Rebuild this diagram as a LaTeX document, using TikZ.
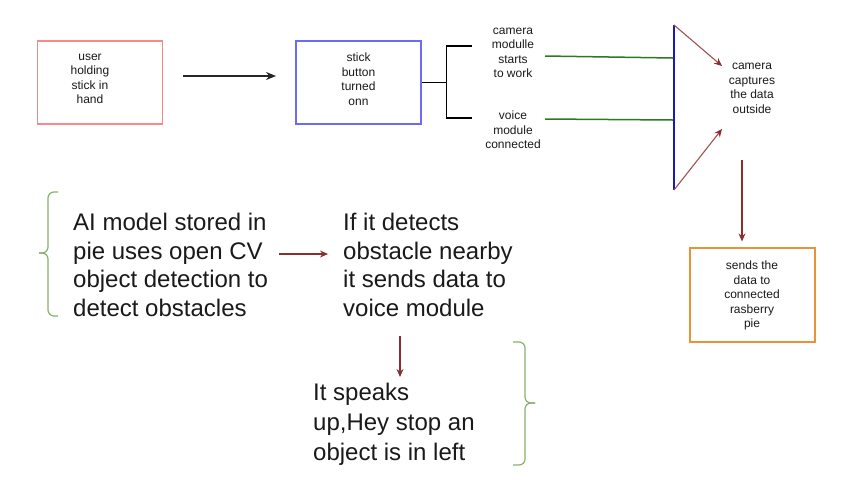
\documentclass[tikz,border=0pt]{standalone}
\usepackage{fontspec}
\setmainfont{Liberation Sans}
\usetikzlibrary{arrows.meta}
\definecolor{boxred}{HTML}{F58A8A}
\definecolor{boxblue}{HTML}{6B6BF5}
\definecolor{lineblue}{HTML}{1A1AB8}
\definecolor{linegreen}{HTML}{2A7A22}
\definecolor{brown}{HTML}{8A2F2F}
\definecolor{diag}{HTML}{A05252}
\definecolor{boxorange}{HTML}{E8933A}
\definecolor{bracegreen}{HTML}{86B36C}
\definecolor{txt}{HTML}{1A1A1A}
\tikzset{
  box/.style={draw, line width=1.2pt, minimum width=125pt, inner sep=0pt},
  small/.style={font=\fontsize{12}{14.5}\selectfont, align=center, text=txt, inner sep=0pt},
  big/.style={font=\fontsize{24}{28.5}\selectfont, align=left, text=txt, inner sep=0pt, anchor=north west},
  blackarr/.style={draw=black!85, line width=1.3pt, -{Stealth[length=10pt,width=8pt]}},
  brarr/.style={draw=brown, line width=1.1pt, -{Stealth[length=8pt,width=7pt]}},
  diagarr/.style={draw=diag, line width=1.1pt, -{Stealth[length=8pt,width=7pt,color=brown]}},
  brace/.style={draw=bracegreen, line width=1.2pt, rounded corners=6pt}
}
\begin{document}
\begin{tikzpicture}[x=1pt,y=-1pt]
\useasboundingbox (0,0) rectangle (860,491);
\fill[white] (0,0) rectangle (860,491);

% top row boxes
\node[box, draw=boxred, minimum height=83pt] (user) at (100,82.5) {};
\node[small] (usertxt) at (90,79) {user\\holding\\stick in\\hand};
\node[box, draw=boxblue, minimum height=83pt] (stick) at (358.5,82.5) {};
\node[small] (sticktxt) at (358.5,79) {stick\\button\\turned\\onn};

\coordinate (a1s) at (183,76);
\coordinate (a1e) at (276,76);
\draw[blackarr] (a1s) -- (a1e);

% bracket from stick box
\coordinate (brtop) at (472,46);
\coordinate (brbot) at (472,118);
\draw[black, line width=1.6pt] (stick.east) -- ++(25,0) coordinate (brmid);
\draw[black, line width=1.6pt] (brtop) -| (brmid) |- (brbot);

\node[small] (camtxt) at (513,53) {camera\\modulle\\starts\\to work};
\node[small] (voicetxt) at (513,130) {voice\\module\\connected};

% blue vertical line and green lines
\coordinate (bltop) at (674,25);
\coordinate (blbot) at (674,190);
\draw[lineblue, line width=1.8pt] (bltop) -- (blbot);
\coordinate (g1s) at (545,56);
\coordinate (g1e) at (673,58);
\coordinate (g2s) at (545,119);
\coordinate (g2e) at (673,120);
\draw[linegreen, line width=1.5pt] (g1s) -- (g1e);
\draw[linegreen, line width=1.5pt] (g2s) -- (g2e);

\node[small] (capt) at (752,88.5) {camera\\captures\\the data\\outside};
\coordinate (d1e) at (722,66);
\coordinate (d2e) at (722,129);
\draw[diagarr] (bltop) -- (d1e);
\draw[diagarr] (blbot) -- (d2e);

\coordinate (dn1s) at (742,160);
\node[box, draw=boxorange, minimum height=94pt] (pie) at (752.5,295) {};
\node[small] (pietxt) at (752,295.5) {sends the\\data to\\connected\\rasberry\\pie};
\draw[brarr] (dn1s) -- ([xshift=-10.5pt,yshift=6pt]pie.north);

% bottom part
\draw[brace] (58,192) -- (48,192) -- (48,253) -- (39,253);
\draw[brace] (39,253) -- (48,253) -- (48,316) -- (58,316);
\node[big] (ai) at (73,213) {AI model stored in\\pie uses open CV\\object detection to\\detect obstacles};
\node[big] (det) at (343,213) {If it detects\\obstacle nearby\\it sends data to\\voice module};
\draw[brarr] ([xshift=11pt]ai.east |- 0,254) -- ([xshift=-15pt]det.west |- 0,254);
\node[big, font=\fontsize{24}{30}\selectfont] (speak) at (313,383) {It speaks\\up,Hey stop an\\object is in left};
\coordinate (dn2s) at (400,336);
\draw[brarr] (dn2s) -- ([yshift=6pt]dn2s |- speak.north);
\draw[brace] (513,342) -- (525,342) -- (525,403) -- (535,403);
\draw[brace] (535,403) -- (525,403) -- (525,465) -- (513,465);
\end{tikzpicture}
\end{document}
